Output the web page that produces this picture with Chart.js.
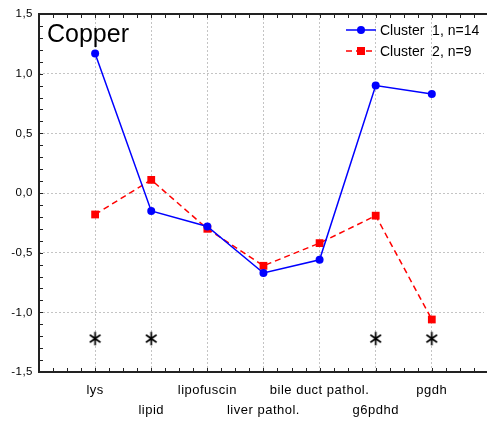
<!DOCTYPE html>
<html>
<head>
<meta charset="utf-8">
<script src="https://cdn.jsdelivr.net/npm/chart.js@4"></script>
<style>
  html, body { margin: 0; padding: 0; background: #fff; overflow: hidden; width: 487px; height: 421px; }
  #wrap { width: 492px; height: 421px; }
</style>
</head>
<body>
<!-- canvas a little wider than the page: the plot runs off the right edge like the original -->
<div id="wrap"><canvas id="chart" width="492" height="421"></canvas></div>
<script>
const categories = ['lys', 'lipid', 'lipofuscin', 'liver pathol.', 'bile duct pathol.', 'g6pdhd', 'pgdh'];
const cluster1 = [1.17, -0.15, -0.28, -0.67, -0.56, 0.90, 0.83];
const cluster2 = [-0.18, 0.11, -0.30, -0.61, -0.42, -0.19, -1.06];
const seriesNames = ['Cluster  1, n=14', 'Cluster  2, n=9'];
const significant = ['lys', 'lipid', 'g6pdhd', 'pgdh'];
const starLevel = -1.22;
const yMin = -1.5, yMax = 1.5, yStep = 0.5;
const chartTitle = 'Copper';

const FONT = '"Liberation Sans", Arial, sans-serif';

// asterisk marker
function makeStar() {
    const c = document.createElement('canvas');
    c.width = 13; c.height = 15;
    const g = c.getContext('2d');
    g.strokeStyle = '#000';
    g.lineWidth = 1.7;
    g.beginPath();
    g.moveTo(6.5, 0.8); g.lineTo(6.5, 14.2);
    g.moveTo(1.2, 3.8); g.lineTo(11.8, 11.2);
    g.moveTo(1.2, 11.2); g.lineTo(11.8, 3.8);
    g.stroke();
    return c;
}

const framePlugin = {
    id: 'frame',
    beforeDraw(chart) {
        chart.ctx.letterSpacing = '0.5px';
    },
    beforeDatasetsDraw(chart) {
        const { ctx, chartArea: a, scales: { x, y } } = chart;
        ctx.save();
        ctx.strokeStyle = '#222';
        ctx.lineWidth = 1;
        ctx.beginPath();
        // minor ticks, pointing inward
        for (let v = yMin * 10; v <= yMax * 10; v++) {
            const py = Math.round(y.getPixelForValue(v / 10)) + 0.5;
            ctx.moveTo(a.left, py); ctx.lineTo(a.left + 4, py);
        }
        for (let v = 0; v <= 40; v++) {
            const px = Math.round(x.getPixelForValue(v / 4)) + 0.5;
            if (px > a.right) break;
            ctx.moveTo(px, a.bottom); ctx.lineTo(px, a.bottom - 4);
            ctx.moveTo(px, a.top); ctx.lineTo(px, a.top + 4);
        }
        ctx.stroke();
        ctx.lineWidth = 2;
        ctx.beginPath();
        ctx.moveTo(chart.width, a.top); ctx.lineTo(a.left, a.top);
        ctx.lineTo(a.left, a.bottom); ctx.lineTo(chart.width, a.bottom);
        ctx.stroke();
        ctx.restore();
    },
    afterDraw(chart) {
        const ctx = chart.ctx;
        ctx.save();
        ctx.letterSpacing = '0px';
        ctx.fillStyle = '#000';
        ctx.font = '25px ' + FONT;
        ctx.textBaseline = 'alphabetic';
        ctx.fillText(chartTitle, 47, 42);

        // legend
        ctx.font = '14px ' + FONT;
        ctx.textBaseline = 'middle';
        [0, 1].forEach(i => {
            const ds = chart.data.datasets[i];
            const ly = 30 + i * 21;
            ctx.strokeStyle = ds.borderColor;
            ctx.lineWidth = ds.borderWidth;
            ctx.setLineDash(ds.borderDash || []);
            ctx.beginPath();
            ctx.moveTo(346, ly); ctx.lineTo(376, ly);
            ctx.stroke();
            ctx.setLineDash([]);
            ctx.fillStyle = ds.backgroundColor;
            if (ds.pointStyle === 'rect') {
                ctx.fillRect(357, ly - 4, 8, 8);
            } else {
                ctx.beginPath();
                ctx.arc(361, ly, 4, 0, Math.PI * 2);
                ctx.fill();
            }
            ctx.fillStyle = '#000';
            ctx.fillText(ds.label, 380, ly + 1);
        });
        ctx.restore();
    }
};

const toPoints = vals => categories.map((c, i) => ({ x: i + 1, y: vals[i] }));

new Chart(document.getElementById('chart'), {
    type: 'line',
    data: {
        datasets: [
            {
                label: seriesNames[0],
                data: toPoints(cluster1),
                borderColor: '#0000ff',
                backgroundColor: '#0000ff',
                borderWidth: 1.5,
                pointStyle: 'circle',
                pointRadius: 4,
                pointBorderWidth: 0,
                tension: 0
            },
            {
                label: seriesNames[1],
                data: toPoints(cluster2),
                borderColor: '#ff0000',
                backgroundColor: '#ff0000',
                borderWidth: 1.5,
                borderDash: [6, 4],
                pointStyle: 'rect',
                pointRadius: 5.5,
                pointBorderWidth: 0,
                tension: 0
            },
            {
                label: 'significant',
                data: significant.map(c => ({ x: categories.indexOf(c) + 1, y: starLevel })),
                showLine: false,
                pointStyle: makeStar(),
                pointRadius: 7
            }
        ]
    },
    options: {
        responsive: false,
        maintainAspectRatio: false,
        animation: false,
        layout: { padding: { top: 14, right: 0, left: 0, bottom: 0 } },
        plugins: { legend: { display: false }, tooltip: { enabled: false } },
        scales: {
            x: {
                type: 'linear',
                min: 0,
                max: 7.93,
                afterBuildTicks: s => { s.ticks = categories.map((c, i) => ({ value: i + 1 })); },
                afterFit: s => { s.height = 49; s.paddingLeft = 0; s.paddingRight = 0; },
                grid: { color: '#c4c4c4', lineWidth: 1, drawTicks: false },
                border: { display: false, dash: [2, 2] },
                ticks: {
                    autoSkip: false,
                    maxRotation: 0,
                    padding: 9,
                    color: '#000',
                    font: { family: FONT, size: 13, lineHeight: 1.5 },
                    callback: (v) => {
                        const i = Math.round(v) - 1;
                        return i % 2 === 0 ? [categories[i]] : ['', categories[i]];
                    }
                }
            },
            y: {
                min: yMin,
                max: yMax,
                afterFit: s => { s.width = 39; s.paddingTop = 0; s.paddingBottom = 0; },
                grid: {
                    color: ctx => (ctx.tick && Math.abs(ctx.tick.value) > 1.4) ? 'rgba(0,0,0,0)' : '#c4c4c4',
                    lineWidth: 1,
                    drawTicks: false
                },
                border: { display: false, dash: [2, 2] },
                ticks: {
                    stepSize: yStep,
                    padding: 6,
                    color: '#000',
                    font: { family: FONT, size: 11.5 },
                    callback: v => v.toFixed(1).replace('.', ',')
                }
            }
        }
    },
    plugins: [framePlugin]
});
</script>
</body>
</html>
